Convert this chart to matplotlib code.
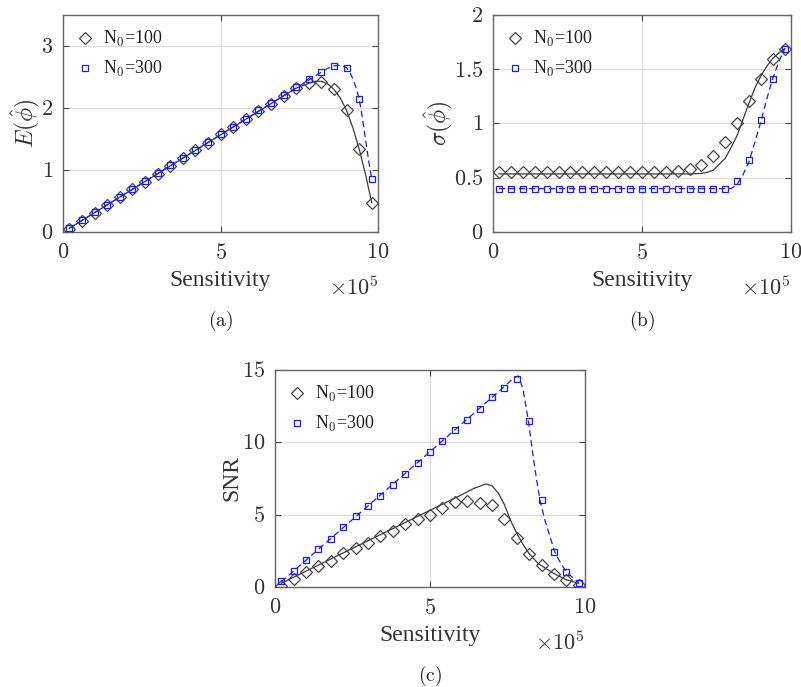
import matplotlib
matplotlib.use("Agg")
import matplotlib.pyplot as plt

plt.rcParams["font.family"] = ["Liberation Serif", "DejaVu Serif"]
plt.rcParams["mathtext.fontset"] = "cm"

# sample points (x in units of 1e5)
x_pts = [0.2, 0.6, 1.0, 1.4, 1.8, 2.2, 2.6, 3.0, 3.4, 3.8, 4.2, 4.6, 5.0,
         5.4, 5.8, 6.2, 6.6, 7.0, 7.4, 7.8, 8.2, 8.6, 9.0, 9.4, 9.8]

# (a) mean estimate
e_n100 = [0.05, 0.18, 0.31, 0.43, 0.56, 0.69, 0.81, 0.94, 1.07, 1.19, 1.32, 1.44, 1.58,
          1.69, 1.82, 1.95, 2.07, 2.19, 2.32, 2.40, 2.42, 2.31, 1.96, 1.34, 0.47]
e_n300 = [0.06, 0.19, 0.32, 0.44, 0.57, 0.70, 0.82, 0.95, 1.08, 1.20, 1.32, 1.45, 1.58,
          1.70, 1.83, 1.96, 2.08, 2.21, 2.34, 2.46, 2.58, 2.68, 2.65, 2.15, 0.85]
e_line100_x = [0.2, 7.4, 7.8, 8.0, 8.2, 8.4, 8.6, 8.8, 9.0, 9.2, 9.4, 9.6, 9.8]
e_line100_y = [0.06, 2.32, 2.40, 2.43, 2.43, 2.39, 2.30, 2.16, 1.96, 1.68, 1.34, 0.93, 0.47]
e_line300_x = [0.2, 7.8, 8.2, 8.4, 8.6, 8.8, 9.0, 9.1, 9.2, 9.3, 9.4, 9.5, 9.6, 9.7, 9.8]
e_line300_y = [0.06, 2.45, 2.58, 2.64, 2.68, 2.69, 2.65, 2.58, 2.47, 2.33, 2.15, 1.85, 1.50, 1.15, 0.85]

# (b) standard deviation
s_n100 = [0.55, 0.55, 0.55, 0.55, 0.55, 0.55, 0.55, 0.555, 0.55, 0.55, 0.55, 0.55, 0.555,
          0.555, 0.55, 0.56, 0.58, 0.62, 0.70, 0.83, 1.00, 1.21, 1.41, 1.59, 1.69]
s_n300 = [0.40, 0.40, 0.40, 0.40, 0.40, 0.40, 0.40, 0.40, 0.40, 0.40, 0.40, 0.40, 0.40,
          0.40, 0.40, 0.40, 0.40, 0.40, 0.40, 0.40, 0.47, 0.66, 1.03, 1.41, 1.69]
s_line100_x = [0.2, 6.6, 7.0, 7.2, 7.4, 7.8, 8.0, 8.2, 8.4, 8.6, 8.8, 9.0, 9.2, 9.4, 9.6, 9.8]
s_line100_y = [0.535, 0.535, 0.54, 0.55, 0.57, 0.68, 0.78, 0.89, 1.04, 1.19, 1.33, 1.44, 1.53, 1.60, 1.65, 1.69]
s_line300_x = [0.2, 8.0, 8.2, 8.4, 8.6, 8.8, 9.0, 9.2, 9.4, 9.6, 9.8]
s_line300_y = [0.40, 0.40, 0.44, 0.53, 0.65, 0.83, 1.02, 1.23, 1.42, 1.57, 1.69]

# (c) SNR
r_n100 = [0.10, 0.58, 1.02, 1.45, 1.80, 2.33, 2.68, 3.05, 3.50, 3.90, 4.34, 4.71, 5.00,
          5.43, 5.89, 5.96, 5.77, 5.68, 4.69, 3.39, 2.31, 1.50, 0.92, 0.46, 0.12]
r_n300 = [0.42, 1.10, 1.85, 2.60, 3.35, 4.13, 4.92, 5.60, 6.30, 7.04, 7.83, 8.60, 9.35,
          10.10, 10.83, 11.57, 12.33, 13.10, 13.74, 14.36, 11.50, 5.98, 2.45, 1.04, 0.30]
r_line100_x = [0.2, 6.0, 6.4, 6.8, 7.0, 7.2, 7.4, 7.6, 7.8, 8.0, 8.2, 8.5, 9.0, 9.4, 9.8]
r_line100_y = [0.25, 6.35, 6.80, 7.12, 7.00, 6.50, 5.70, 4.60, 3.70, 2.95, 2.30, 1.60, 0.93, 0.50, 0.25]
r_line300_x = [0.2, 7.4, 7.7, 7.85, 8.0, 8.17, 8.33, 8.44, 8.55, 8.71, 8.87, 9.03, 9.19, 9.39, 9.63, 9.8]
r_line300_y = [0.35, 13.85, 14.45, 14.58, 13.7, 11.54, 9.0, 7.4, 6.0, 4.6, 3.5, 2.4, 1.75, 1.06, 0.6, 0.3]

BLACK = "#3a3a3a"
BLUE = "#1a1aff"

fig = plt.figure(figsize=(8.01, 6.87), dpi=100)


def panel(rect, d100, d300, l100, l300, ylim, yticks, ylabel, ylabel_x, tag):
    ax = fig.add_axes(rect)
    ax.plot(l100[0], l100[1], color=BLACK, lw=0.9, zorder=2)
    ax.plot(l300[0], l300[1], color=BLUE, lw=0.9, ls=(0, (5, 3)), zorder=2)
    ax.plot(x_pts, d100, ls="none", marker="D", ms=6, mfc="none", mec="#444444",
            mew=0.9, label=r"N$_0$=100", zorder=3)
    ax.plot(x_pts, d300, ls="none", marker="s", ms=5, mfc="none", mec=BLUE,
            mew=0.9, label=r"N$_0$=300", zorder=3)
    ax.set_xlim(0, 10)
    ax.set_ylim(*ylim)
    ax.set_xticks([0, 5, 10])
    ax.set_xticklabels(["$0$", "$5$", "$10$"])
    ax.set_yticks(yticks)
    ax.set_yticklabels(["$%g$" % v for v in yticks])
    ax.tick_params(direction="in", top=True, right=True, length=4, width=0.8,
                   colors="#444444", labelcolor="#333333", labelsize=16)
    ax.tick_params(axis="x", pad=9)
    ax.tick_params(axis="y", pad=7)
    ax.grid(True, color="#dcdcdc", lw=0.8)
    ax.set_axisbelow(True)
    for s in ax.spines.values():
        s.set_color("#666666")
        s.set_linewidth(1.0)
    ax.set_xlabel("Sensitivity", fontsize=17, color="#333333")
    ax.xaxis.set_label_coords(0.5, -0.225)
    ax.xaxis.label.set_va("center")
    ax.set_ylabel(ylabel, fontsize=17, color="#333333")
    ax.yaxis.set_label_coords(ylabel_x, 0.5)
    ax.text(1.0, -0.26, r"$\times10^5$", transform=ax.transAxes, ha="right",
            va="center", fontsize=16, color="#333333")
    leg = ax.legend(loc="upper left", frameon=False, fontsize=13, handlelength=0.8,
                    handletextpad=0.6, borderaxespad=0.4, labelspacing=0.55)
    for t in leg.get_texts():
        t.set_color("#222222")
    fig.text(rect[0] + rect[2] / 2, rect[1] - 0.13, r"$\mathrm{(%s)}$" % tag,
             ha="center", va="center", fontsize=14, color="#222222")
    return ax


panel([0.0787, 0.6623, 0.3933, 0.3159], e_n100, e_n300,
      (e_line100_x, e_line100_y), (e_line300_x, e_line300_y),
      (0, 3.5), [0, 1, 2, 3], r"$E(\hat{\phi})$", -0.067, "a")
panel([0.6155, 0.6623, 0.3717, 0.3159], s_n100, s_n300,
      (s_line100_x, s_line100_y), (s_line300_x, s_line300_y),
      (0, 2), [0, 0.5, 1, 1.5, 2], r"$\sigma(\hat{\phi})$", -0.128, "b")
panel([0.3433, 0.1456, 0.3870, 0.3159], r_n100, r_n300,
      (r_line100_x, r_line100_y), (r_line300_x, r_line300_y),
      (0, 15), [0, 5, 10, 15], "SNR", -0.106, "c")

fig.savefig("out.png", dpi=100)
